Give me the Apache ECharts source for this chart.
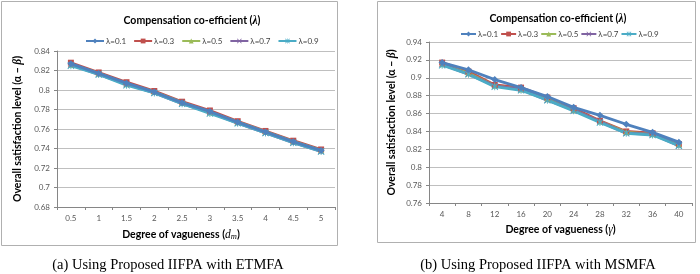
<!DOCTYPE html>
<html>
<head>
<meta charset="utf-8">
<script src="https://cdn.jsdelivr.net/npm/echarts@6/dist/echarts.min.js"></script>
<style>
  html, body { margin: 0; padding: 0; background: #fff; }
  #chart { width: 700px; height: 274px; }
</style>
</head>
<body>
<div id="chart"></div>
<script>
// left panel: degree of vagueness d_m
const dmCategories = ['0.5', '1', '1.5', '2', '2.5', '3', '3.5', '4', '4.5', '5']
const dmL01 = [0.827, 0.817, 0.807, 0.798, 0.787, 0.778, 0.767, 0.757, 0.747, 0.738]
const dmL03 = [0.828, 0.818, 0.808, 0.799, 0.788, 0.779, 0.768, 0.758, 0.748, 0.739]
const dmL05 = [0.826, 0.817, 0.806, 0.798, 0.787, 0.777, 0.767, 0.757, 0.747, 0.738]
const dmL07 = [0.826, 0.816, 0.806, 0.797, 0.786, 0.777, 0.766, 0.756, 0.746, 0.737]
const dmL09 = [0.825, 0.816, 0.805, 0.797, 0.786, 0.776, 0.766, 0.756, 0.746, 0.737]

// right panel: degree of vagueness gamma
const gammaCategories = ['4', '8', '12', '16', '20', '24', '28', '32', '36', '40']
const gL01 = [0.917, 0.909, 0.898, 0.889, 0.879, 0.867, 0.858, 0.848, 0.839, 0.828]
const gL03 = [0.917, 0.907, 0.892, 0.889, 0.878, 0.866, 0.852, 0.840, 0.838, 0.826]
const gL05 = [0.915, 0.905, 0.891, 0.887, 0.876, 0.864, 0.851, 0.839, 0.837, 0.825]
const gL07 = [0.915, 0.904, 0.891, 0.887, 0.875, 0.864, 0.851, 0.838, 0.837, 0.824]
const gL09 = [0.914, 0.904, 0.890, 0.886, 0.875, 0.863, 0.850, 0.838, 0.836, 0.824]

const seriesNames = ['λ=0.1', 'λ=0.3', 'λ=0.5', 'λ=0.7', 'λ=0.9']

const colors = ['#4F81BD', '#C0504D', '#9BBB59', '#8064A2', '#4BACC6']
const crossPath = 'path://M0,1L1,0L5,4L9,0L10,1L6,5L10,9L9,10L5,6L1,10L0,9L4,5Z'
const starPath = 'path://M0,1L1,0L4.4,3.4L4.4,0L5.6,0L5.6,3.4L9,0L10,1L6,5L10,9L9,10L5.6,6.6L5.6,10L4.4,10L4.4,6.6L1,10L0,9L4,5Z'
const symbols = ['diamond', 'rect', 'triangle', crossPath, starPath]
const symbolSizes = [7, 6, 6, 6, 7]

const font = 'Lato, "Open Sans", sans-serif'
const serif = '"Liberation Serif", "DejaVu Serif", serif'

function makeSeries(dataList, axisIndex) {
  return dataList.map((data, i) => ({
    name: seriesNames[i],
    type: 'line',
    xAxisIndex: axisIndex,
    yAxisIndex: axisIndex,
    data,
    symbol: symbols[i],
    symbolSize: symbolSizes[i],
    lineStyle: { color: colors[i], width: 2.8 },
    itemStyle: { color: colors[i] },
    z: 2 + (i === 0 ? 1 : 0)
  }))
}

function xAxisOpt(gridIndex, cats, rich, shift) {
  return {
    type: 'category',
    gridIndex,
    data: cats,
    boundaryGap: true,
    axisLine: { lineStyle: { color: '#868686' } },
    axisTick: { show: true, length: 3, lineStyle: { color: '#868686' } },
    axisLabel: { color: '#595959', fontSize: 8, fontFamily: font, margin: 7 },
    name: rich,
    nameLocation: 'middle',
    nameGap: 21,
    nameTextStyle: {
      color: '#000', fontSize: 10.5, fontWeight: 'bold', fontFamily: font,
      padding: [0, shift, 0, 0],
      rich: {
        i: { fontStyle: 'italic', fontFamily: serif, fontSize: 11.5, fontWeight: 'normal', color: '#000' },
        sub: { fontStyle: 'italic', fontFamily: serif, fontSize: 8.5, fontWeight: 'normal', color: '#000', verticalAlign: 'bottom', padding: [4, 0, 0, 0] }
      }
    }
  }
}

function yAxisOpt(gridIndex, min, max, nameGap) {
  return {
    type: 'value',
    gridIndex,
    min,
    max,
    interval: 0.02,
    axisLine: { show: true, lineStyle: { color: '#868686' } },
    axisTick: { show: true, length: 3, lineStyle: { color: '#868686' } },
    splitLine: { lineStyle: { color: '#BFBFBF' } },
    axisLabel: { color: '#595959', fontSize: 8, fontFamily: font, margin: 7 },
    name: 'Overall satisfaction level (α − {i|β})',
    nameLocation: 'middle',
    nameGap,
    nameTextStyle: {
      color: '#000', fontSize: 10.5, fontWeight: 'bold', fontFamily: font,
      rich: { i: { fontStyle: 'italic', fontFamily: serif, fontSize: 11.5, color: '#000' } }
    }
  }
}

const legendCommon = {
  itemHeight: 6,
  textStyle: { color: '#404040', fontSize: 8, fontFamily: font, padding: [0, 0, 0, -3] },
  data: seriesNames
}

const chart = echarts.init(document.getElementById('chart'))

const option = {
  animation: false,
  title: [
    {
      text: 'Compensation co-efficient ({i|λ})',
      left: 187, top: 10, textAlign: 'center',
      textStyle: {
        fontSize: 10.5, fontWeight: 'bold', fontFamily: font, color: '#000',
        rich: { i: { fontStyle: 'italic', fontFamily: serif, fontSize: 11.5, color: '#000' } }
      }
    },
    {
      text: 'Compensation co-efficient ({i|λ})',
      left: 553, top: 8, textAlign: 'center',
      textStyle: {
        fontSize: 10.5, fontWeight: 'bold', fontFamily: font, color: '#000',
        rich: { i: { fontStyle: 'italic', fontFamily: serif, fontSize: 11.5, color: '#000' } }
      }
    }
  ],
  legend: [
    Object.assign({}, legendCommon, { left: 80, top: 32, itemWidth: 18, itemGap: 7 }),
    Object.assign({}, legendCommon, { left: 455, top: 25, itemWidth: 15, itemGap: 2 })
  ],
  grid: [
    { left: 57, top: 51, width: 278, height: 156 },
    { left: 429, top: 42, width: 263, height: 161 }
  ],
  xAxis: [
    xAxisOpt(0, dmCategories, 'Degree of vagueness ({i|d}{sub|m})', 30),
    xAxisOpt(1, gammaCategories, 'Degree of vagueness ({i|γ})', 0)
  ],
  yAxis: [
    yAxisOpt(0, 0.68, 0.84, 33),
    yAxisOpt(1, 0.76, 0.94, 31)
  ],
  series: [
    ...makeSeries([dmL01, dmL03, dmL05, dmL07, dmL09], 0),
    ...makeSeries([gL01, gL03, gL05, gL07, gL09], 1)
  ],
  graphic: [
    { type: 'rect', shape: { x: 1.5, y: 1.5, width: 336, height: 244 }, style: { fill: null, stroke: '#B0B0B0', lineWidth: 1 }, silent: true },
    { type: 'rect', shape: { x: 377.5, y: 1.5, width: 318, height: 241 }, style: { fill: null, stroke: '#B0B0B0', lineWidth: 1 }, silent: true },
    { type: 'text', x: 168, y: 265, style: { text: '(a) Using Proposed IIFPA with ETMFA', font: '14.5px ' + serif, fill: '#000', align: 'center', verticalAlign: 'middle' } },
    { type: 'text', x: 538, y: 265, style: { text: '(b) Using Proposed IIFPA with MSMFA', font: '14.5px ' + serif, fill: '#000', align: 'center', verticalAlign: 'middle' } }
  ]
}

chart.setOption(option)
</script>
</body>
</html>
